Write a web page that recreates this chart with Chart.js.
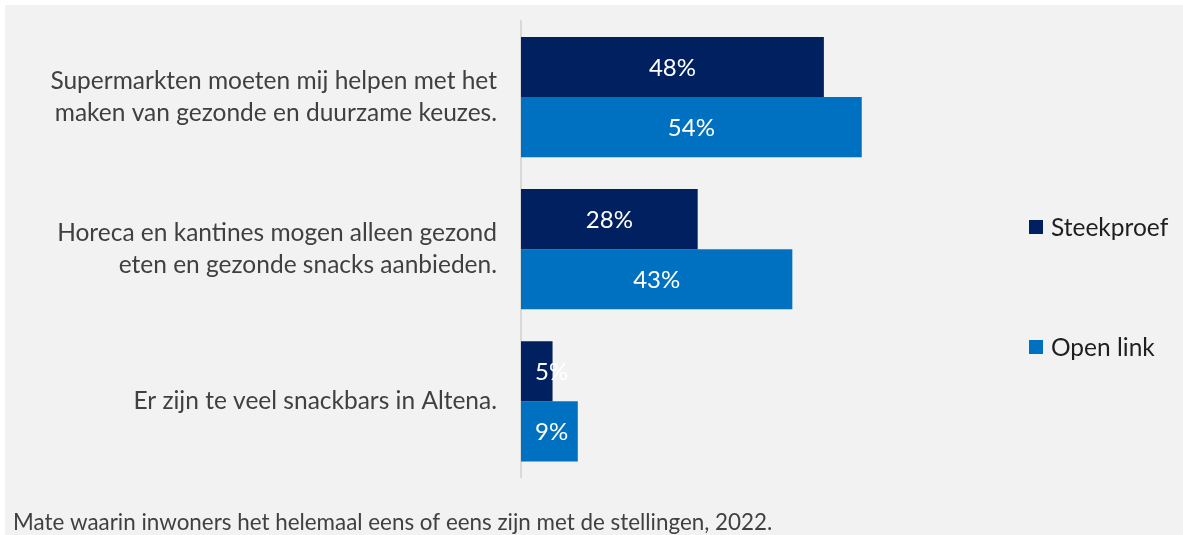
<!DOCTYPE html>
<html>
<head>
<meta charset="utf-8">
<script src="https://cdn.jsdelivr.net/npm/chart.js@4"></script>
<style>
  html, body { margin: 0; padding: 0; background: #ffffff; }
  #wrap { position: absolute; left: 5px; top: 5px; width: 1178px; height: 530px; background: #f2f2f2; }
</style>
</head>
<body>
<div id="wrap"><canvas id="myChart" width="1178" height="530"></canvas></div>
<script>
// data
var categories = [
    ["Supermarkten moeten mij helpen met het", "maken van gezonde en duurzame keuzes."],
    ["Horeca en kantines mogen alleen gezond", "eten en gezonde snacks aanbieden."],
    ["Er zijn te veel snackbars in Altena."]
];
var steekproef = [48, 28, 5];
var openLink = [54, 43, 9];
var seriesNames = ["Steekproef", "Open link"];
var caption = "Mate waarin inwoners het helemaal eens of eens zijn met de stellingen, 2022.";

Chart.defaults.font.family = "Lato, 'Open Sans', sans-serif";

// white percentage labels inside the bars
var barLabels = {
    id: 'barLabels',
    afterDatasetsDraw: function (chart) {
        var ctx = chart.ctx;
        ctx.save();
        ctx.font = "24px Lato";
        ctx.fillStyle = "#ffffff";
        ctx.textAlign = "center";
        ctx.textBaseline = "middle";
        chart.data.datasets.forEach(function (ds, i) {
            chart.getDatasetMeta(i).data.forEach(function (bar, j) {
                var txt = ds.data[j] + "%";
                var w = ctx.measureText(txt).width;
                var x = Math.max((bar.x + bar.base) / 2, bar.base + w / 2 + 14);
                ctx.fillText(txt, x, bar.y + 1);
            });
        });
        ctx.restore();
    }
};

// legend on the right, items far apart like the original
var sideLegend = {
    id: 'sideLegend',
    afterDraw: function (chart) {
        var ctx = chart.ctx;
        var x = 1024, ys = [222, 342];
        ctx.save();
        ctx.font = "24.5px Lato";
        ctx.textBaseline = "middle";
        chart.data.datasets.forEach(function (ds, i) {
            ctx.fillStyle = ds.backgroundColor;
            ctx.fillRect(x, ys[i] - 7, 14, 14);
            ctx.fillStyle = "#1f1f1f";
            ctx.fillText(ds.label, x + 22, ys[i] + 1);
        });
        ctx.restore();
    }
};

var ctx = document.getElementById('myChart').getContext('2d');
new Chart(ctx, {
    type: 'bar',
    data: {
        labels: categories,
        datasets: [{
            label: seriesNames[0],
            data: steekproef,
            backgroundColor: "#002060",
            barPercentage: 1,
            categoryPercentage: 0.79
        }, {
            label: seriesNames[1],
            data: openLink,
            backgroundColor: "#0070c0",
            barPercentage: 1,
            categoryPercentage: 0.79
        }]
    },
    options: {
        indexAxis: 'y',
        responsive: false,
        animation: false,
        layout: { padding: { top: 16, right: 31, left: 8, bottom: 0 } },
        scales: {
            x: { display: false, min: 0, max: 100 },
            y: {
                grid: { display: false, drawTicks: false },
                border: { display: true, color: "#d9d9d9", width: 2 },
                ticks: {
                    color: "#404040",
                    font: { size: 24.5, lineHeight: 1.3 },
                    padding: 24
                },
                afterFit: function (scale) {
                    scale.width = 508;
                    scale.paddingTop = 0;
                    scale.paddingBottom = 0;
                }
            }
        },
        plugins: {
            legend: { display: false },
            tooltip: { enabled: false },
            title: {
                display: true,
                text: caption,
                position: 'bottom',
                align: 'start',
                color: "#404040",
                font: { size: 22.4, weight: 'normal', lineHeight: 1.1 },
                padding: { top: 33, bottom: 0 }
            }
        }
    },
    plugins: [barLabels, sideLegend]
});
</script>
</body>
</html>
